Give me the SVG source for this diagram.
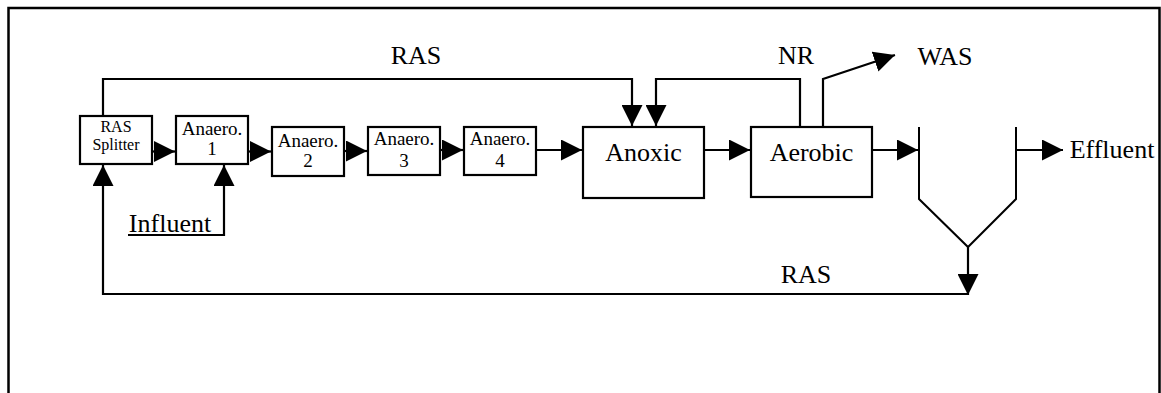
<svg xmlns="http://www.w3.org/2000/svg" width="1161" height="393" viewBox="0 0 1161 393">
<style>
.box{fill:#fff;stroke:#000;stroke-width:2.2}
.ln{fill:none;stroke:#000;stroke-width:2.2}
.thin{fill:none;stroke:#000;stroke-width:2}
text{font-family:"Liberation Serif","Times New Roman",serif;fill:#000;text-anchor:middle}
.big{font-size:26px}
.mid{font-size:19px}
.sm{font-size:16px}
</style>
<defs>
<marker id="ah" viewBox="0 0 21 21" refX="21" refY="10.5" markerWidth="21" markerHeight="21" markerUnits="userSpaceOnUse" orient="auto">
<path d="M0,0 L21,10.5 L0,21 z" fill="#000"/>
</marker>
</defs>
<rect width="1161" height="393" fill="#fff"/>
<path d="M8.5,400 V8 H1159.5 V400" fill="none" stroke="#000" stroke-width="2.5"/>
<g id="connectors">
<path class="ln" d="M103,116 V79 H632 V126" marker-end="url(#ah)"/>
<path class="ln" d="M800,127 V79 H656 V126" marker-end="url(#ah)"/>
<path class="ln" d="M823,127 V79 L895,55" marker-end="url(#ah)"/>
<path class="ln" d="M152,151.5 H175" marker-end="url(#ah)"/>
<path class="ln" d="M248,151.5 H271" marker-end="url(#ah)"/>
<path class="ln" d="M344,151 H367" marker-end="url(#ah)"/>
<path class="ln" d="M440,150 H463" marker-end="url(#ah)"/>
<path class="ln" d="M536,150 H582" marker-end="url(#ah)"/>
<path class="ln" d="M704,150 H750" marker-end="url(#ah)"/>
<path class="ln" d="M872,150 H918" marker-end="url(#ah)"/>
<path class="ln" d="M1016,150 H1063" marker-end="url(#ah)"/>
<path class="ln" d="M128,235 H224 V165" marker-end="url(#ah)"/>
<path class="ln" d="M968,247 V295" marker-end="url(#ah)"/>
<path class="ln" d="M968,294 H103 V165" marker-end="url(#ah)"/>
</g>
<g id="clarifier">
<path class="thin" d="M919,127 V199 L968,247 L1016,199 V127"/>
</g>
<g id="splitter">
<rect class="box" x="80" y="116" width="72" height="48"/>
<text class="sm" x="116" y="132">RAS</text>
<text class="sm" x="116" y="150">Splitter</text>
</g>
<g id="anaero1">
<rect class="box" x="176" y="116" width="72" height="48"/>
<text class="mid" x="212" y="135">Anaero.</text>
<text class="mid" x="212" y="155">1</text>
</g>
<g id="anaero2">
<rect class="box" x="272" y="127" width="72" height="49"/>
<text class="mid" x="308" y="147">Anaero.</text>
<text class="mid" x="308" y="167">2</text>
</g>
<g id="anaero3">
<rect class="box" x="368" y="127" width="72" height="48"/>
<text class="mid" x="404" y="145">Anaero.</text>
<text class="mid" x="404" y="167">3</text>
</g>
<g id="anaero4">
<rect class="box" x="464" y="127" width="72" height="48"/>
<text class="mid" x="500" y="145">Anaero.</text>
<text class="mid" x="500" y="167">4</text>
</g>
<g id="anoxic">
<rect class="box" x="583" y="127" width="121" height="71"/>
<text class="big" x="643.5" y="161">Anoxic</text>
</g>
<g id="aerobic">
<rect class="box" x="751" y="127" width="121" height="70"/>
<text class="big" x="811.5" y="161">Aerobic</text>
</g>
<g id="labels">
<text class="big" x="416" y="64">RAS</text>
<text class="big" x="796" y="64">NR</text>
<text class="big" x="945" y="65">WAS</text>
<text class="big" x="1112" y="158">Effluent</text>
<text class="big" x="170" y="232">Influent</text>
<text class="big" x="806" y="283">RAS</text>
</g>
</svg>
